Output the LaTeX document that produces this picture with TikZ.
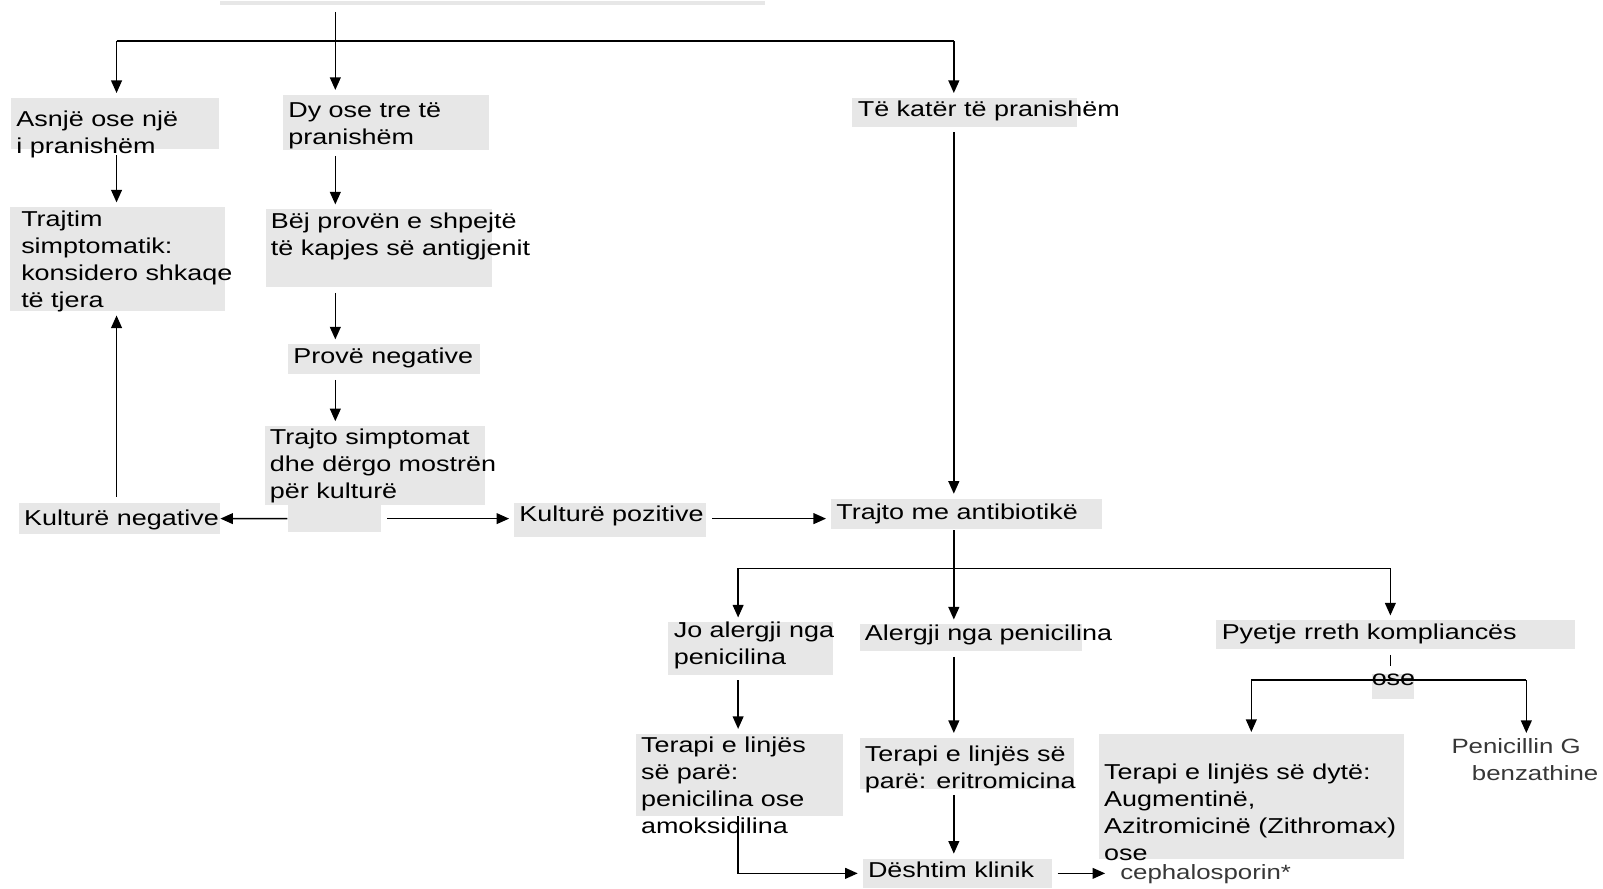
\documentclass[tikz,border=0pt]{standalone}
\usepackage{fontspec}
\setmainfont{Liberation Sans}[FakeStretch=1.25]
\usetikzlibrary{arrows.meta}
\definecolor{boxgray}{RGB}{231,231,231}
\definecolor{notegray}{RGB}{55,55,55}
\newcommand{\bxfont}{\fontsize{12pt}{15pt}\selectfont}
\newcommand{\notefont}{\fontsize{11.5pt}{15pt}\selectfont}
% text in a gray box: top gap, width, height, lines
\newcommand{\bx}[4]{\parbox[t][#3][t]{#2}{\raggedright\vspace*{#1}\strut#4}}
\tikzset{
  box/.style={fill=boxgray, anchor=north west, inner xsep=3pt, inner ysep=0pt, font=\bxfont},
  note/.style={text=notegray, inner sep=0pt, font=\notefont},
  link/.style={->, shorten <=0.1cm, shorten >=0.08cm},
}
\begin{document}
\begin{tikzpicture}[x=0.02cm, y=-0.02cm, line width=0.9pt, >={Triangle[length=7pt,width=6pt]}]
    \useasboundingbox (0,0) rectangle (1568,869);
    \node[box, inner sep=0pt, minimum width=10.68cm, minimum height=0.08cm] (topbar) at (214,0) {};

    \node[box] (asnje) at (10,95) {\bx{0.19cm}{3.85cm}{1.0cm}{Asnjë ose një\\i pranishëm}};
    \node[box] (dyose) at (276,92) {\bx{0.07cm}{3.83cm}{1.08cm}{Dy ose tre të\\pranishëm}};
    \node[box] (kater) at (833,95) {\bx{0cm}{4.19cm}{0.56cm}{\mbox{Të katër të pranishëm}}};
    \node[box, inner xsep=0.22cm] (trajtim) at (9,202) {\bx{0cm}{3.76cm}{2.02cm}{Trajtim\\simptomatik:\\\mbox{konsidero shkaqe}\\të tjera}};
    \node[box] (bej) at (259,204) {\bx{0cm}{4.21cm}{1.52cm}{\mbox{Bëj provën e shpejtë}\\\mbox{të kapjes së antigjenit}}};
    \node[box] (prove) at (281,336) {\bx{0cm}{3.55cm}{0.58cm}{Provë negative}};
    \node[box] (trajto) at (258,416) {\bx{0cm}{4.11cm}{1.54cm}{Trajto simptomat\\\mbox{dhe dërgo mostrën}\\për kulturë}};
    \node[box, inner sep=0pt, minimum width=1.82cm, minimum height=0.54cm] (tab) at (281,493) {};
    \node[box] (kneg) at (17.5,491) {\bx{0.07cm}{3.72cm}{0.62cm}{\mbox{Kulturë negative}}};
    \node[box] (kpoz) at (502,491) {\bx{0cm}{3.55cm}{0.66cm}{\mbox{Kulturë pozitive}}};
    \node[box] (antib) at (812,487) {\bx{0.03cm}{5.09cm}{0.60cm}{Trajto me antibiotikë}};

    \node[box] (jo) at (653,608) {\bx{-0.07cm}{3.01cm}{1.02cm}{\mbox{Jo alergji nga}\\penicilina}};
    \node[box] (alergji) at (840,610) {\bx{-0.05cm}{4.15cm}{0.52cm}{\mbox{Alergji nga penicilina}}};
    \node[box] (pyetje) at (1189,606) {\bx{0cm}{6.81cm}{0.56cm}{Pyetje rreth kompliancës}};
    \node[box, inner xsep=0pt] (ose) at (1341,658) {\bx{-0.14cm}{0.82cm}{0.50cm}{\mbox{ose}}};
    \node[box] (ter1) at (621,717) {\bx{0cm}{3.85cm}{1.60cm}{Terapi e linjës\\së parë:\\penicilina ose\\amoksicilina}};
    \node[box] (ter2) at (840,721) {\bx{0.09cm}{3.99cm}{1.00cm}{\mbox{Terapi e linjës së}\\\mbox{parë: eritromicina}}};
    \node[box] (ter3) at (1074,717) {\bx{0.53cm}{5.77cm}{2.44cm}{Terapi e linjës së dytë:\\Augmentinë,\\\mbox{Azitromicinë (Zithromax)}\\ose}};
    \node[note, anchor=north west, inner ysep=0.1cm, align=left] (pen) at (1419,717) {Penicillin G\\\hspace*{0.4cm}benzathine};
    \node[box] (desh) at (843,839) {\bx{0cm}{3.49cm}{0.58cm}{Dështim klinik}};
    \node[note, anchor=west, inner xsep=0.2cm] (ceph) at (1085,855) {cephalosporin*};

    % top split
    \coordinate (j1) at (328,40);
    \coordinate (jl) at (114,40);
    \coordinate (jr) at (933,40);
    \draw[shorten <=0.12cm] (topbar.south -| j1) -- (j1);
    \draw (jl) -- (jr);
    \draw[->, shorten >=0.08cm] (jl) -- (jl |- asnje.north);
    \draw[->, shorten >=0.08cm] (j1) -- (j1 |- dyose.north);
    \draw[->, shorten >=0.08cm] (jr) -- (jr |- kater.north);
    \draw[link] (asnje.south -| jl) -- (trajtim.north -| jl);
    \draw[link] (dyose.south -| j1) -- (bej.north -| j1);
    \draw[link] (bej.south -| j1) -- (prove.north -| j1);
    \draw[link] (prove.south -| j1) -- (trajto.north -| j1);
    \draw[->] (tab.west) -- (kneg.east);
    \draw[link] (tab.east) -- (kpoz.west |- tab.east);
    \draw[link] (kneg.north -| jl) -- (trajtim.south -| jl);
    \draw[link] (kpoz.east |- tab.east) -- (antib.west |- tab.east);
    \draw[link] (kater.south -| jr) -- (antib.north -| jr);

    % antibiotics split
    \coordinate (j2) at (933,556);
    \coordinate (j2l) at (722,556);
    \coordinate (j2r) at (1360,556);
    \draw (antib.south -| j2) -- (j2);
    \draw (j2l) -- (j2r);
    \draw[->, shorten >=0.08cm] (j2l) -- (j2l |- jo.north);
    \draw[->, shorten >=0.08cm] (j2) -- (j2 |- alergji.north);
    \draw[->, shorten >=0.08cm] (j2r) -- (j2r |- pyetje.north);
    \draw[link] (jo.south -| j2l) -- (ter1.north -| j2l);
    \draw[link] (alergji.south -| j2) -- (ter2.north -| j2);
    \draw[link] (ter2.south -| j2) -- (desh.north -| j2);
    \draw[->, shorten >=0.08cm] (ter1.south -| j2l) |- (desh.west);
    \draw[link] (desh.east) -- (desh.east -| ceph.west);

    % ose
    \coordinate (oseT) at (1360,651);
    \coordinate (oseL) at (1224,665);
    \coordinate (oseR) at (1493,665);
    \draw[shorten <=0.1cm] (pyetje.south -| oseT) -- (oseT);
    \draw (oseL) -- (oseR);
    \draw[->, shorten >=0.02cm] (oseL) -- (oseL |- ter3.north);
    \draw[->] (oseR) -- (oseR |- pen.north);
\end{tikzpicture}
\end{document}
